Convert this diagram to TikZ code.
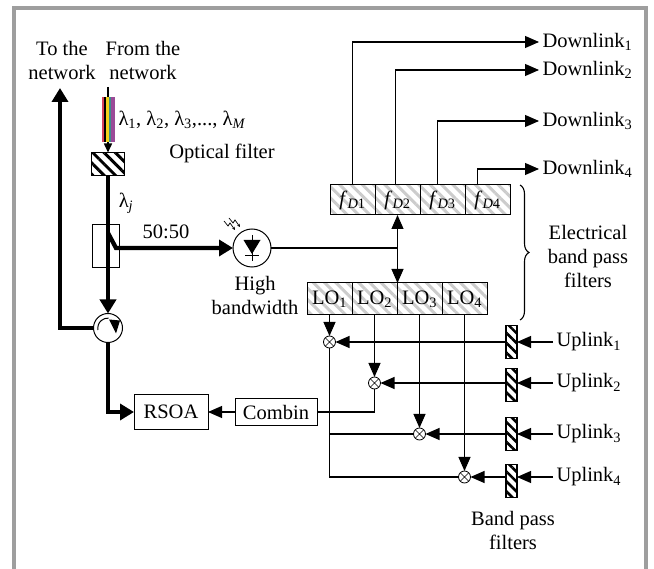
\documentclass[tikz,border=0pt]{standalone}
\usepackage{fontspec}
\setmainfont{Liberation Serif}
\usetikzlibrary{arrows.meta,positioning,patterns.meta,decorations.pathreplacing}
\definecolor{framegray}{gray}{0.62}
\definecolor{hatchgray}{gray}{0.8}
\definecolor{fibred}{HTML}{D6455E}
\definecolor{fibyellow}{HTML}{F2D31B}
\definecolor{fibteal}{HTML}{3E8C8C}
\definecolor{fibpurple}{HTML}{9A4A97}
\tikzset{
	thinline/.style={line width=1.1pt},
	thinarrow/.style={line width=1.1pt, -{Triangle[length=14pt,width=12pt]}},
	thickarrow/.style={line width=4.3pt, -{Triangle[length=14pt,width=16pt]}},
	plainbox/.style={draw, line width=1pt, inner sep=0pt, outer sep=0pt},
	fbox/.style={plainbox, minimum width=45pt, minimum height=30pt, pattern={Lines[angle=-45,distance=8pt,line width=3pt]}, pattern color=hatchgray},
	lobox/.style={fbox, minimum height=32pt},
	bpfbox/.style={plainbox, line width=1.2pt, minimum width=11pt, minimum height=33pt, pattern={Lines[angle=-45,distance=7pt,line width=2.6pt]}},
	mixer/.style={circle, draw, line width=0.8pt, fill=white, minimum size=12pt, inner sep=0pt, outer sep=0pt,
		path picture={\draw[line width=0.6pt] (path picture bounding box.north west) -- (path picture bounding box.south east)
			(path picture bounding box.north east) -- (path picture bounding box.south west);}},
}
\begin{document}
\begin{tikzpicture}[x=1pt, y=-1pt, font=\fontsize{20.5}{24}\selectfont]
	\useasboundingbox (0,0) rectangle (654,569);
	\draw[framegray, line width=4pt] (14,569) -- (14,8) -- (646,8) -- (646,569);
	% optical part
	\node[plainbox, minimum width=33pt, minimum height=23pt, pattern={Lines[angle=-45,distance=8pt,line width=3pt]}] (of) at (108,164) {};
	\node[plainbox, minimum width=27pt, minimum height=43pt] (cpl) at (106,246.5) {};
	\node[circle, plainbox, minimum size=29pt] (circ) at (108,328) {};
	\node[circle, plainbox, minimum size=38pt] (pd) at (252,248) {};
	\node[plainbox, minimum width=74pt, minimum height=35pt] (rsoa) at (171,412) {RSOA};
	\node[plainbox, minimum width=82pt, minimum height=27pt] (comb) at (276,412) {Combin};
	\coordinate (fromnet) at (108,87);
	\coordinate (tonet) at (60,88);
	\coordinate (split) at (108,233);
	\draw[line width=1.5pt, -{Triangle[length=9pt,width=8pt]}] (fromnet) -- (of.north);
	\fill[fibred] (101.7,97) rectangle (104.4,142);
	\fill[black] (104.4,97) rectangle (106.1,142);
	\fill[fibyellow] (106.1,97) rectangle (108.8,142);
	\fill[fibteal] (108.8,97) rectangle (111.4,142);
	\fill[fibpurple] (111.4,97) rectangle (115,142);
	\draw[thickarrow] (of.south) -- (circ.north);
	\draw[thickarrow] (split) -- ++(8,15) -- (pd.west);
	\draw[thickarrow] (circ.west) -| (tonet);
	\draw[thickarrow] (circ.south) |- (rsoa.west);
	\draw[line width=1pt] ([shift={(-10,2)}]circ.center) arc[start angle=169, end angle=275, radius=10];
	\fill ([shift={(1,-8.5)}]circ.center) -- ++(11,1) -- ++(-4,13) -- cycle;
	\fill ([shift={(-8.5,-8)}]pd.center) -- ++(17,0) -- ++(-8.5,14) -- cycle;
	\draw[line width=1pt] ([shift={(0,-13)}]pd.center) -- ([shift={(0,13)}]pd.center);
	\draw[line width=1pt] ([shift={(-7,8)}]pd.center) -- ([shift={(7,8)}]pd.center);
	\draw[line width=0.7pt, -{Stealth[length=3pt,width=3pt]}] ([shift={(-28,-27)}]pd.center) -- ++(4,5) -- ++(2,-3) -- ++(5,7);
	\draw[line width=0.7pt, -{Stealth[length=3pt,width=3pt]}] ([shift={(-23,-30)}]pd.center) -- ++(4,5) -- ++(2,-3) -- ++(5,7);
	\node[align=center] (tolbl) at (62,60) {To the\\network};
	\node[align=center] (fromlbl) at (143,60) {From the\\network};
	\node[anchor=west] (lamlbl) at (115,120) {λ\textsubscript{1}, λ\textsubscript{2}, λ\textsubscript{3},..., λ\textsubscript{\textit{M}}};
	\node (oflbl) at (222,153) {Optical filter};
	\node (lamj) at (126,203) {λ\textsubscript{\textit{j}}};
	\node (splitlbl) at (166,232) {50:50};
	\node[align=center] (pdlbl) at (255,295) {High\\bandwidth};
	% electrical filters
	\node[fbox] (fD1) at (352.5,200) {\textit{f}\textsubscript{\textit{D}1}};
	\node[fbox, right=0pt of fD1] (fD2) {\textit{f}\textsubscript{\textit{D}2}};
	\node[fbox, right=0pt of fD2] (fD3) {\textit{f}\textsubscript{\textit{D}3}};
	\node[fbox, right=0pt of fD3] (fD4) {\textit{f}\textsubscript{\textit{D}4}};
	\node[lobox] (LO1) at (329.5,299) {LO\textsubscript{1}};
	\node[lobox, right=0pt of LO1] (LO2) {LO\textsubscript{2}};
	\node[lobox, right=0pt of LO2] (LO3) {LO\textsubscript{3}};
	\node[lobox, right=0pt of LO3] (LO4) {LO\textsubscript{4}};
	\coordinate (tap) at (fD2.south |- pd.east);
	\draw[thinline] (pd.east) -- (tap);
	\draw[thinarrow] (tap) -- (fD2.south);
	\draw[thinarrow] (tap) -- (tap |- LO2.north);
	\node[anchor=west] (dl1) at (539,42) {Downlink\textsubscript{1}};
	\node[anchor=west] (dl2) at (539,70) {Downlink\textsubscript{2}};
	\node[anchor=west] (dl3) at (539,121) {Downlink\textsubscript{3}};
	\node[anchor=west] (dl4) at (539,169) {Downlink\textsubscript{4}};
	\draw[thinarrow] (fD1.north) |- (dl1.west);
	\draw[thinarrow] ([xshift=-2pt]fD2.north) |- (dl2.west);
	\draw[thinarrow] ([xshift=-5pt]fD3.north) |- (dl3.west);
	\draw[thinarrow] ([xshift=-10pt]fD4.north) |- (dl4.west);
	\draw[thinline, decorate, decoration={brace, amplitude=9pt}] (520,185) -- (520,320);
	\node[align=center] (ebpflbl) at (588,256) {Electrical\\band pass\\filters};
	% uplinks
	\node[anchor=west] (ul1) at (553,342) {Uplink\textsubscript{1}};
	\node[anchor=west] (ul2) at (553,383) {Uplink\textsubscript{2}};
	\node[anchor=west] (ul3) at (553,434) {Uplink\textsubscript{3}};
	\node[anchor=west] (ul4) at (553,477) {Uplink\textsubscript{4}};
	\node[bpfbox] (bpf1) at (511.5,342) {};
	\node[bpfbox] (bpf2) at (511.5,385) {};
	\node[bpfbox] (bpf3) at (511.5,434) {};
	\node[bpfbox] (bpf4) at (511.5,481) {};
	\node[mixer] (mx1) at (LO1.south |- ul1.west) {};
	\node[mixer] (mx2) at (LO2.south |- ul2.west) {};
	\node[mixer] (mx3) at (LO3.south |- ul3.west) {};
	\node[mixer] (mx4) at (LO4.south |- ul4.west) {};
	\draw[thinarrow] (ul1.west) -- (ul1.west -| bpf1.east);
	\draw[thinarrow] (ul2.west) -- (ul2.west -| bpf2.east);
	\draw[thinarrow] (ul3.west) -- (ul3.west -| bpf3.east);
	\draw[thinarrow] (ul4.west) -- (ul4.west -| bpf4.east);
	\draw[thinarrow] (ul1.west -| bpf1.west) -- (mx1.east);
	\draw[thinarrow] (ul2.west -| bpf2.west) -- (mx2.east);
	\draw[thinarrow] (ul3.west -| bpf3.west) -- (mx3.east);
	\draw[thinarrow] (ul4.west -| bpf4.west) -- (mx4.east);
	\draw[thinarrow] (LO1.south) -- (mx1.north);
	\draw[thinarrow] (LO2.south) -- (mx2.north);
	\draw[thinarrow] (LO3.south) -- (mx3.north);
	\draw[thinarrow] (LO4.south) -- (mx4.north);
	\draw[thinline] (mx1.south) |- (mx4.west);
	\draw[thinline] (mx3.west) -- (mx3.west -| mx1);
	\draw[thinline] (mx2.south) |- (comb.east);
	\draw[thinarrow] (comb.west) -- (rsoa.east);
	\node[align=center] (bpflbl) at (513,530) {Band pass\\filters};
\end{tikzpicture}
\end{document}
